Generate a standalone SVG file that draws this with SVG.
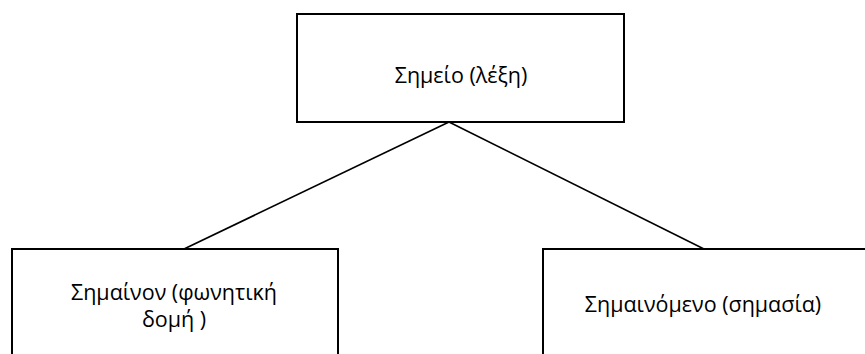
<svg xmlns="http://www.w3.org/2000/svg" width="865" height="354" viewBox="0 0 865 354">
<style>
.box{fill:#fff;stroke:#000;stroke-width:2}
.ln{stroke:#000;stroke-width:1.6;fill:none}
text{font-family:"Open Sans","Noto Sans",sans-serif;font-size:21.5px;fill:#000;text-anchor:middle}
</style>
<rect width="865" height="354" fill="#fff"/>
<g id="connectors">
<line class="ln" x1="449" y1="122" x2="184" y2="249"/>
<line class="ln" x1="449" y1="122" x2="704" y2="249"/>
</g>
<g id="top">
<rect class="box" x="297" y="14" width="327" height="108"/>
<text x="461" y="83">Σημείο (λέξη)</text>
</g>
<g id="left">
<rect class="box" x="12" y="249" width="326" height="110"/>
<text x="174" y="300">Σημαίνον (φωνητική</text>
<text x="174" y="327">δομή )</text>
</g>
<g id="right">
<rect class="box" x="543" y="249" width="330" height="110"/>
<text x="703" y="312">Σημαινόμενο (σημασία)</text>
</g>
</svg>
